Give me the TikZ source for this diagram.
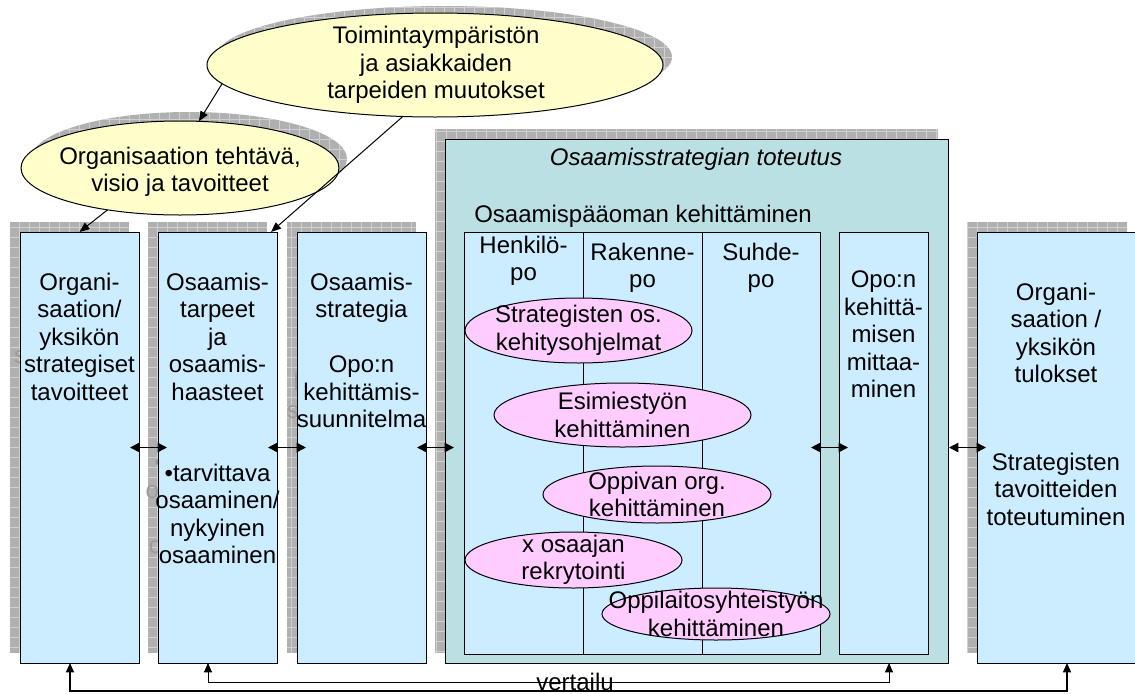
\documentclass[tikz,border=0pt]{standalone}
\usepackage{fontspec}
\setmainfont{Liberation Sans}
\usetikzlibrary{arrows.meta,calc,shapes.geometric}

\definecolor{boxblue}{RGB}{204,236,255}
\definecolor{panelteal}{RGB}{187,224,227}
\definecolor{ovyellow}{RGB}{255,255,204}
\definecolor{ovpink}{RGB}{255,204,255}
\definecolor{shadefill}{RGB}{176,176,176}
\definecolor{shadegrid}{RGB}{208,208,208}
\definecolor{ghosttext}{RGB}{155,155,155}

\newcommand\diagfont{\fontsize{18}{20.6}\selectfont}

% rectangle node from corner coordinates: style, name, x1, y1, x2, y2
\newcommand\boxat[6]{\node[#1, minimum width={((#5)-(#3))*0.75pt}, minimum height={((#6)-(#4))*0.75pt}] (#2) at ({((#3)+(#5))/2},{((#4)+(#6))/2}) {};}
% ellipse node: style, name, cx, cy, rx, ry
\newcommand\ovalat[6]{\node[#1, minimum width={2*(#5)*0.75pt}, minimum height={2*(#6)*0.75pt}] (#2) at (#3,#4) {};}

\tikzset{
  every node/.style={inner sep=0pt, outer sep=0pt},
  hatchshade/.style={fill=shadefill, path picture={\draw[shadegrid, line width=0.6pt, step=7.5pt] (path picture bounding box.south west) grid (path picture bounding box.north east);}},
  shaderect/.style={rectangle, hatchshade},
  shadeoval/.style={ellipse, hatchshade},
  panel/.style={rectangle, draw=black, line width=0.75pt, fill=boxblue},
  tealpanel/.style={rectangle, draw=black, line width=0.75pt, fill=panelteal},
  yoval/.style={ellipse, draw=black, line width=0.75pt, fill=ovyellow},
  poval/.style={ellipse, draw=black, line width=0.75pt, fill=ovpink},
  txt/.style={font=\diagfont, align=center, text=black},
  toptxt/.style={txt, anchor=north},
  ghostchar/.style={font=\diagfont, text=ghosttext, anchor=base west},
  pointer/.style={draw=black, line width=0.75pt, -{Triangle[length=7.5pt,width=6pt]}},
  twoway/.style={draw=black, line width=1.1pt, {Triangle[length=7pt,width=7pt]}-{Triangle[length=7pt,width=7pt]}},
  feedback/.style={draw=black, line width=#1, {Triangle[length=7pt,width=6pt]}-{Triangle[length=7pt,width=6pt]}},
}

\begin{document}
\begin{tikzpicture}[x=0.75pt, y=-0.75pt]
\useasboundingbox (0,0) rectangle (1135,693);

% drop shadows
\boxat{shaderect}{s1}{10}{222}{129}{653}
\boxat{shaderect}{s2}{148}{222}{267}{653}
\boxat{shaderect}{s3}{287}{222}{416}{653}
\boxat{shaderect}{steal}{435}{129}{938}{653}
\boxat{shaderect}{srb}{967}{222}{1127}{653}
\ovalat{shadeoval}{ste}{444}{57}{228}{51}
\ovalat{shadeoval}{sorg}{189}{159}{158}{47}

% shadowed first letters peeking out beside the panels
\node[ghostchar] (g1) at (14,363) {s};
\node[ghostchar] (g3) at (154.5,470.6) {•};
\node[ghostchar] (g4) at (145.5,498) {o};
\node[ghostchar] (g5) at (148.8,553) {o};
\node[ghostchar] (g6) at (293.5,390.4) {k};
\node[ghostchar] (g7) at (286.8,418) {s};

% panels
\boxat{panel}{b1}{20}{232}{139}{663}
\boxat{panel}{b2}{158}{232}{277}{663}
\boxat{panel}{b3}{297}{232}{426}{663}
\boxat{tealpanel}{teal}{445}{139}{948}{663}
\boxat{panel}{col1}{464}{232}{583}{654}
\boxat{panel}{col2}{583}{232}{702}{654}
\boxat{panel}{col3}{702}{232}{820}{654}
\boxat{panel}{opo}{839}{232}{928}{654}
\boxat{panel}{rb}{977}{232}{1137}{663}

% panel texts
\node[toptxt] (b1t) at (79.5,273) {Organi-\\saation/\\yksikön\\strategiset\\tavoitteet};
\node[toptxt] (b2t) at (217.5,273) {Osaamis-\\tarpeet\\ja\\osaamis-\\haasteet};
\node[toptxt] (b2u) at (217.5,464) {•tarvittava\\osaaminen/\\nykyinen\\osaaminen};
\node[toptxt] (b3t) at (361.5,273) {Osaamis-\\strategia\\[20.6pt]Opo:n\\kehittämis-\\suunnitelma};
\node[txt, anchor=base, font=\diagfont\itshape] (tealt) at (696,165) {Osaamisstrategian toteutus};
\node[txt, anchor=base] (kehit) at (643,222) {Osaamispääoman kehittäminen};
\node[toptxt] (col1t) at (523.5,236) {Henkilö-\\po};
\node[toptxt] (col2t) at (642.5,243) {Rakenne-\\po};
\node[toptxt] (col3t) at (761,243) {Suhde-\\po};
\node[toptxt] (opot) at (883.5,271) {Opo:n\\kehittä-\\misen\\mittaa-\\minen};
\node[toptxt] (rbt) at (1056,283) {Organi-\\saation /\\yksikön\\tulokset};
\node[toptxt] (rbu) at (1056,453) {Strategisten\\tavoitteiden\\toteutuminen};

% ovals
\ovalat{yoval}{te}{435}{65}{228}{52}
\ovalat{yoval}{org}{180}{168}{159}{47}
\node[txt] (tet) at (436,65) {Toimintaympäristön\\ja asiakkaiden\\tarpeiden muutokset};
\node[txt] (orgt) at (180,172) {Organisaation tehtävä,\\visio ja tavoitteet};

\ovalat{poval}{p1}{578.5}{330.5}{113.5}{32.5}
\ovalat{poval}{p2}{622.5}{415}{128.5}{32}
\ovalat{poval}{p3}{657}{494.5}{114}{28.5}
\ovalat{poval}{p4}{573.5}{560}{108.5}{28}
\ovalat{poval}{p5}{716}{614}{114}{26}
\node[txt] (p1t) at (p1) {Strategisten os.\\kehitysohjelmat};
\node[txt] (p2t) at (p2) {Esimiestyön\\kehittäminen};
\node[txt] (p3t) at (p3) {Oppivan org.\\kehittäminen};
\node[txt] (p4t) at (p4) {x osaajan\\rekrytointi};
\node[txt] (p5t) at (p5) {Oppilaitosyhteistyön\\kehittäminen};

% influence arrows
\draw[pointer] (te.185) -- (org.68);
\draw[pointer] (te.238) -- ([xshift=-4.5pt]b2.north east);
\draw[pointer] (org.210) -- (b1.north);

% two-way links between stages
\draw[twoway] ($(b1.east)+(-9,0)$) -- ($(b2.west)+(9,0)$);
\draw[twoway] ($(b2.east)+(-9,0)$) -- ($(b3.west)+(9,0)$);
\draw[twoway] ($(b3.east)+(-9,0)$) -- ($(teal.west |- b3.east)+(9,0)$);
\draw[twoway] ($(col3.east |- b1.east)+(-9,0)$) -- ($(opo.west |- b1.east)+(9,0)$);
\draw[twoway] ($(teal.east |- b1.east)+(1,0)$) -- ($(rb.west)+(9,0)$);

% comparison loops
\coordinate (railA) at (0,691);
\coordinate (railB) at (0,682);
\coordinate (fbA) at ($(b1.south)+(-9.5,0)$);
\coordinate (fbB) at ($(rb.south)+(10,0)$);
\coordinate (fcA) at ($(b2.south)+(-9.5,0)$);
\coordinate (fcB) at ($(opo.south |- teal.south)+(5.5,0)$);
\draw[feedback=1.1pt] (fbA) -- (fbA |- railA) -| (fbB);
\draw[feedback=0.75pt] (fcA) -- (fcA |- railB) -| (fcB);
\node[txt, anchor=base] (vert) at (575,690.5) {vertailu};
\end{tikzpicture}
\end{document}
